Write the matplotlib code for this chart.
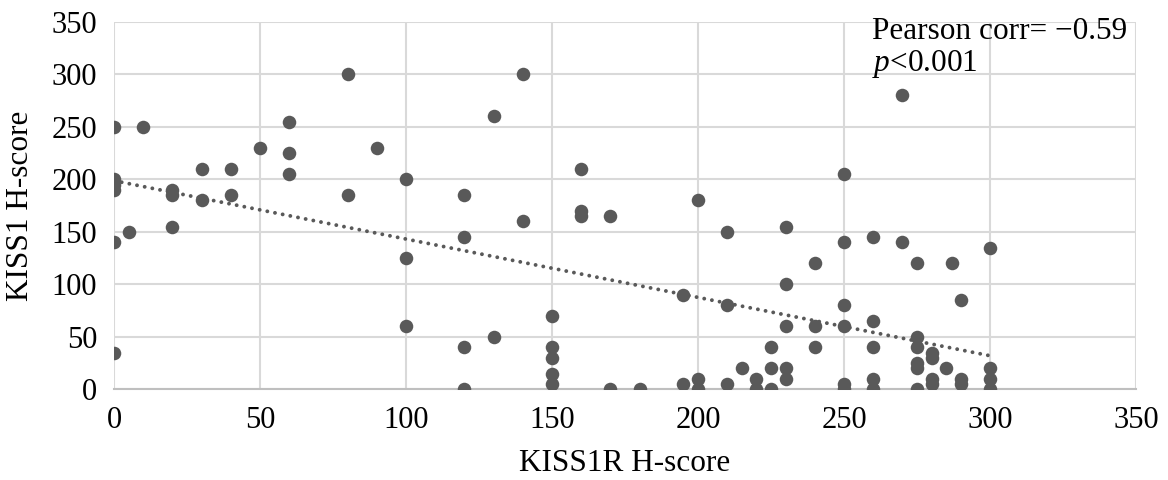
import numpy as np
import matplotlib
matplotlib.use("Agg")
import matplotlib.pyplot as plt

# KISS1R H-score (x) vs KISS1 H-score (y)
kiss1r = [0, 0, 0, 0, 0, 0, 5, 10, 20, 20, 20, 30, 30, 40, 40, 50, 60, 60, 60,
          80, 80, 90, 100, 100, 100,
          120, 120, 120, 120, 130, 130, 140, 140, 150, 150, 150, 150, 150,
          160, 160, 160, 170, 170, 180, 195, 195, 200, 200, 200, 210, 210, 210,
          215, 220, 220, 225, 225, 225, 230, 230, 230, 230, 230,
          240, 240, 240, 250, 250, 250, 250, 250, 250,
          260, 260, 260, 260, 260, 270, 270,
          275, 275, 275, 275, 275, 275, 280, 280, 280, 280, 285, 287,
          290, 290, 290, 300, 300, 300, 300]
kiss1 = [250, 200, 195, 190, 140, 35, 150, 250, 190, 185, 155, 210, 180, 210, 185, 230, 255, 225, 205,
         300, 185, 230, 200, 125, 60,
         185, 145, 40, 0, 260, 50, 300, 160, 70, 40, 30, 15, 5,
         210, 170, 165, 165, 0, 0, 90, 5, 180, 10, 0, 150, 80, 5,
         20, 10, 0, 40, 20, 0, 155, 100, 60, 20, 10,
         120, 60, 40, 205, 140, 80, 60, 5, 0,
         145, 65, 40, 10, 0, 280, 140,
         120, 50, 40, 25, 20, 0, 35, 30, 10, 5, 20, 120,
         85, 10, 5, 135, 20, 10, 0]

plt.rcParams['font.family'] = ['Liberation Serif', 'DejaVu Serif']
plt.rcParams['mathtext.fontset'] = 'custom'
plt.rcParams['mathtext.rm'] = 'Liberation Serif'
plt.rcParams['mathtext.it'] = 'Liberation Serif:italic'

fig = plt.figure(figsize=(11.68, 4.8), dpi=100)
ax = fig.add_axes([0.0976, 0.189, 0.875, 0.7656])

ax.grid(True, color='#d9d9d9', linewidth=1.5, zorder=0)
ax.set_axisbelow(True)
ax.scatter(kiss1r, kiss1, s=95, color='#595959', linewidths=0, zorder=3)

# linear trend line
m, b = np.polyfit(kiss1r, kiss1, 1)
xs = np.array([0, 300])
ax.plot(xs, m * xs + b, linestyle=(0, (0.01, 2.0)), color='#595959',
        linewidth=2.8, dash_capstyle='round', zorder=2)

ax.set_xlim(0, 350)
ax.set_ylim(0, 350)
ax.set_xticks(np.arange(0, 351, 50))
ax.set_yticks(np.arange(0, 351, 50))
ax.tick_params(length=0, labelsize=22, pad=12)
for s in ['top', 'right', 'left']:
    ax.spines[s].set_visible(False)
ax.spines['bottom'].set_color('#bfbfbf')
ax.spines['bottom'].set_linewidth(1.5)

ax.set_xlabel('KISS1R H-score', fontsize=22.5, labelpad=10)
ax.set_ylabel('KISS1 H-score', fontsize=22.5, labelpad=12)

ax.text(259.5, 341, 'Pearson corr= \u22120.59', fontsize=22.5, va='center', ha='left')
ax.text(259.5, 310, '$p$<0.001', fontsize=22.5, va='center', ha='left')

fig.savefig('out.png', dpi=100)
